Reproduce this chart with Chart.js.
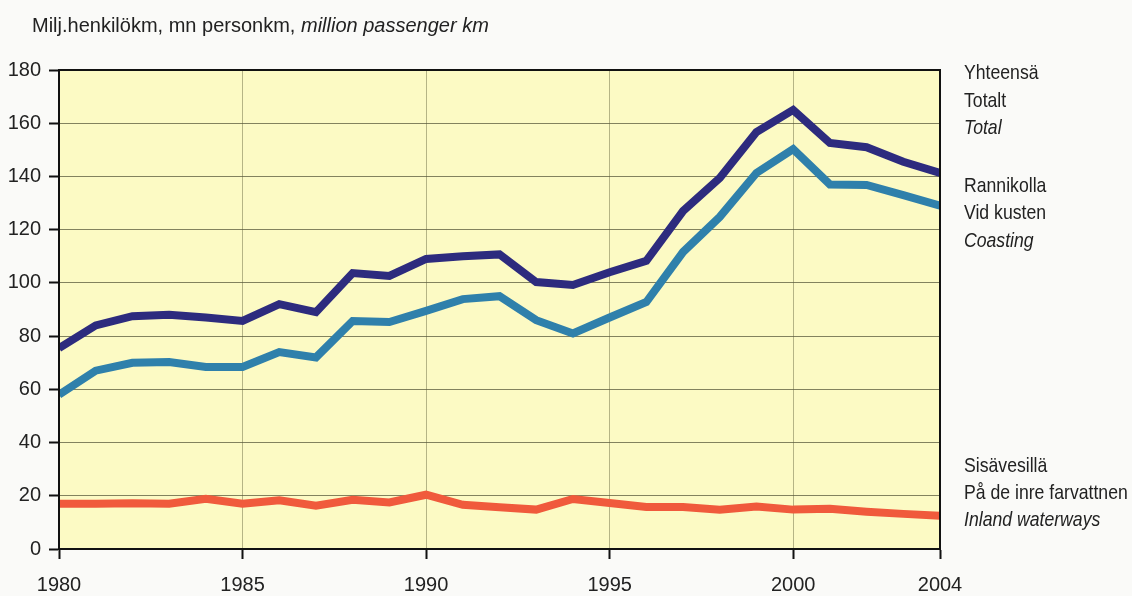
<!DOCTYPE html>
<html>
<head>
<meta charset="utf-8">
<script src="https://cdn.jsdelivr.net/npm/chart.js@4.4.1/dist/chart.umd.min.js"></script>
<style>
  html, body { margin: 0; padding: 0; background: #fafaf8; }
  #wrap { width: 1132px; height: 596px; }
</style>
</head>
<body>
<div id="wrap"><canvas id="c" width="1132" height="596"></canvas></div>
<script>
const years = [1980,1981,1982,1983,1984,1985,1986,1987,1988,1989,1990,1991,1992,1993,1994,1995,1996,1997,1998,1999,2000,2001,2002,2003,2004];
const total = [75.5,84,87.5,88,87,85.7,92,89,103.7,102.6,109,110,110.7,100.3,99.2,104,108.3,127,139.4,156.7,165,152.6,151,145.5,141.3];
const coasting = [58,67,70,70.3,68.4,68.4,74,72,85.7,85.3,89.5,93.9,95,86,81,87,92.8,111.6,124.8,141.3,150.3,137,136.8,133,129];
const inland = [17,17,17.2,17,18.9,17,18.3,16.3,18.5,17.5,20.4,16.6,15.7,14.8,18.8,17.3,15.8,15.8,14.8,16,14.8,15.1,14,13.2,12.5];
const xTickValues = [1980,1985,1990,1995,2000,2004];
const yTickValues = [0,20,40,60,80,100,120,140,160,180];

const titleParts = [
  {text: 'Milj.henkilökm, mn personkm, ', italic: false},
  {text: 'million passenger km', italic: true}
];
const seriesLabels = [
  ['Yhteensä', 'Totalt', 'Total'],
  ['Rannikolla', 'Vid kusten', 'Coasting'],
  ['Sisävesillä', 'På de inre farvattnen', 'Inland waterways']
];

const FONT = '"Liberation Sans", Arial, sans-serif';

const pts = arr => years.map((yr, i) => ({x: yr, y: arr[i]}));

const framePlugin = {
  id: 'frame',
  beforeDraw(chart) {
    const {ctx, chartArea: a} = chart;
    ctx.save();
    ctx.fillStyle = '#fcfac4';
    ctx.fillRect(a.left, a.top, a.right - a.left, a.bottom - a.top);
    ctx.restore();
  },
  afterDatasetsDraw(chart) {
    const {ctx, chartArea: a} = chart;
    ctx.save();
    ctx.strokeStyle = '#111';
    ctx.lineWidth = 2;
    ctx.strokeRect(a.left, a.top, a.right - a.left, a.bottom - a.top);
    ctx.restore();
  },
  afterDraw(chart) {
    const {ctx, chartArea: a} = chart;
    ctx.save();
    ctx.fillStyle = '#222';
    ctx.textBaseline = 'alphabetic';
    ctx.textAlign = 'left';
    let x = 32;
    titleParts.forEach(p => {
      ctx.font = (p.italic ? 'italic ' : '') + '20px ' + FONT;
      ctx.fillText(p.text, x, 32);
      x += ctx.measureText(p.text).width;
    });
    const baselines = [[79, 106.5, 134], [191.5, 219, 246.5], [471.5, 498.5, 526]];
    const sx = 0.84;
    seriesLabels.forEach((grp, g) => {
      grp.forEach((t, k) => {
        ctx.save();
        ctx.font = (k === 2 ? 'italic ' : '') + '21px ' + FONT;
        ctx.translate(a.right + 24, baselines[g][k]);
        ctx.scale(sx, 1);
        ctx.fillText(t, 0, 0);
        ctx.restore();
      });
    });
    ctx.restore();
  }
};

new Chart(document.getElementById('c'), {
  type: 'line',
  data: {
    datasets: [
      {label: 'Total', data: pts(total), borderColor: '#2d2b7e', borderWidth: 8, pointRadius: 0, tension: 0, fill: false},
      {label: 'Coasting', data: pts(coasting), borderColor: '#2f80ab', borderWidth: 8, pointRadius: 0, tension: 0, fill: false},
      {label: 'Inland waterways', data: pts(inland), borderColor: '#f05a3c', borderWidth: 8, pointRadius: 0, tension: 0, fill: false}
    ]
  },
  options: {
    responsive: false,
    animation: false,
    events: [],
    layout: {padding: {left: 0, top: 70, right: 192, bottom: 0}},
    plugins: {legend: {display: false}, tooltip: {enabled: false}, title: {display: false}},
    scales: {
      x: {
        type: 'linear', min: 1980, max: 2004,
        afterBuildTicks: s => { s.ticks = xTickValues.map(v => ({value: v})); },
        afterFit: s => { s.height = 47; },
        grid: {color: 'rgba(110,110,70,0.5)', lineWidth: 1, tickLength: 10, tickColor: '#111', tickWidth: 2},
        border: {display: true, color: '#111', width: 2},
        ticks: {color: '#222', font: {family: FONT, size: 20}, padding: 14, maxRotation: 0, autoSkip: false,
                callback: v => String(v)}
      },
      y: {
        min: 0, max: 180,
        afterBuildTicks: s => { s.ticks = yTickValues.map(v => ({value: v})); },
        afterFit: s => { s.width = 59; },
        grid: {color: 'rgba(90,90,60,0.75)', lineWidth: 1, tickLength: 10, tickColor: '#111', tickWidth: 2},
        border: {display: true, color: '#111', width: 2},
        ticks: {color: '#222', font: {family: FONT, size: 20}, padding: 8, callback: v => String(v)}
      }
    }
  },
  plugins: [framePlugin]
});
</script>
</body>
</html>
